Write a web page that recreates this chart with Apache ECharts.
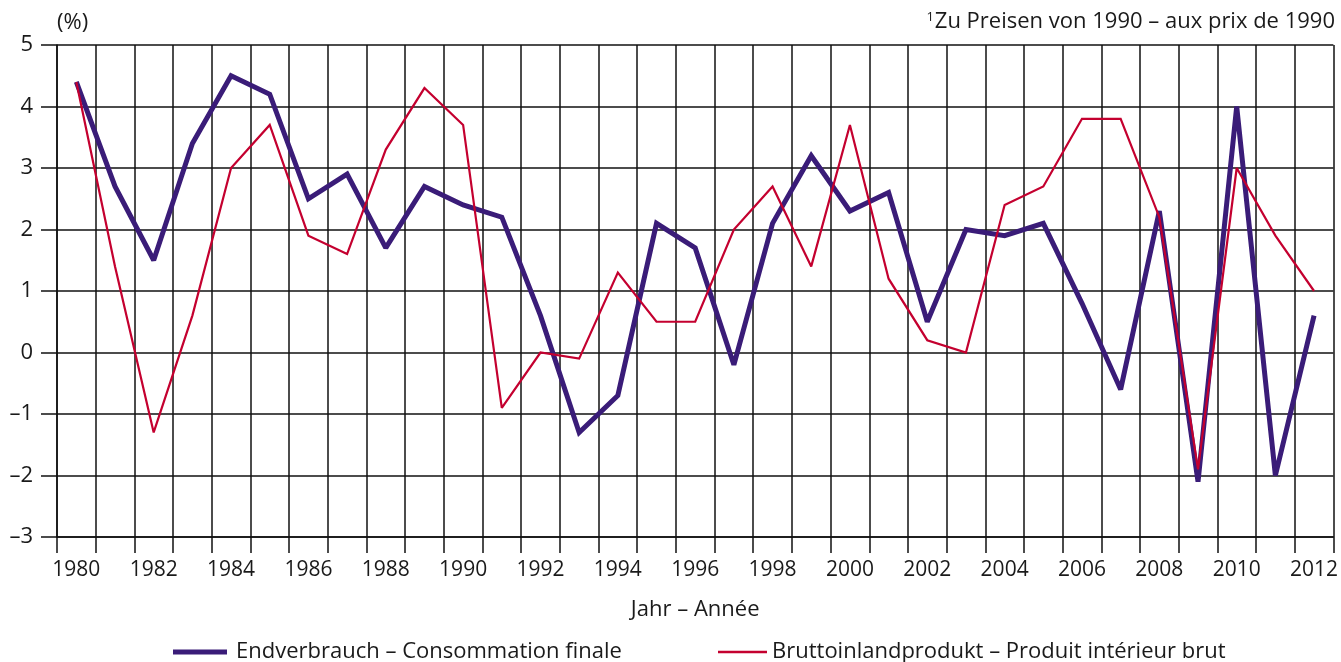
<!DOCTYPE html>
<html>
<head>
  <meta charset="utf-8" />
  <script src="https://cdn.jsdelivr.net/npm/echarts@6/dist/echarts.min.js"></script>
  <style>
    html, body { margin: 0; padding: 0; background: #fff; }
    #main { width: 1341px; height: 662px; }
  </style>
  <title>Endverbrauch und BIP</title>
</head>
<body>
  <div id="main"></div>
  <script>
    // Jahre 1980 - 2012
    var years = ['1980', '1981', '1982', '1983', '1984', '1985', '1986', '1987', '1988', '1989',
      '1990', '1991', '1992', '1993', '1994', '1995', '1996', '1997', '1998', '1999',
      '2000', '2001', '2002', '2003', '2004', '2005', '2006', '2007', '2008', '2009',
      '2010', '2011', '2012'];

    // Endverbrauch – Consommation finale (%)
    var endverbrauch = [4.4, 2.7, 1.5, 3.4, 4.5, 4.2, 2.5, 2.9, 1.7, 2.7,
      2.4, 2.2, 0.6, -1.3, -0.7, 2.1, 1.7, -0.2, 2.1, 3.2,
      2.3, 2.6, 0.5, 2.0, 1.9, 2.1, 0.8, -0.6, 2.3, -2.1,
      4.0, -2.0, 0.6];

    // Bruttoinlandprodukt – Produit intérieur brut (%)
    var bip = [4.4, 1.4, -1.3, 0.6, 3.0, 3.7, 1.9, 1.6, 3.3, 4.3,
      3.7, -0.9, 0.0, -0.1, 1.3, 0.5, 0.5, 2.0, 2.7, 1.4,
      3.7, 1.2, 0.2, 0.0, 2.4, 2.7, 3.8, 3.8, 2.2, -1.9,
      3.0, 1.9, 1.0];

    var seriesNames = ['Endverbrauch – Consommation finale', 'Bruttoinlandprodukt – Produit intérieur brut'];

    var FONT = '"Open Sans", sans-serif';
    var TXT = '#1a1a1a';
    var GRID = '#111';
    var PURPLE = '#3a1c78';
    var RED = '#c4002f';

    var myChart = echarts.init(document.getElementById('main'));

    var option = {
      backgroundColor: '#fff',
      animation: false,
      textStyle: { fontFamily: FONT, color: TXT },
      grid: { left: 57, right: 3, top: 45, bottom: 125, containLabel: false },
      legend: [{
        data: [seriesNames[0]],
        left: 168, top: 636,
        icon: 'rect',
        itemWidth: 54, itemHeight: 5,
        itemStyle: { color: PURPLE },
        textStyle: { fontFamily: FONT, fontSize: 22, color: TXT, padding: [0, 0, 0, 4] }
      }, {
        data: [seriesNames[1]],
        left: 713, top: 636,
        icon: 'rect',
        itemWidth: 49, itemHeight: 2.5,
        itemStyle: { color: RED },
        textStyle: { fontFamily: FONT, fontSize: 22, color: TXT }
      }],
      xAxis: {
        type: 'category',
        data: years,
        boundaryGap: true,
        name: 'Jahr – Année',
        nameLocation: 'middle',
        nameGap: 62,
        nameTextStyle: { fontFamily: FONT, fontSize: 22, color: TXT },
        axisLine: { show: true, onZero: false, lineStyle: { color: GRID, width: 1.5 } },
        axisTick: { show: true, interval: 0, length: 16, lineStyle: { color: GRID, width: 1.5 } },
        axisLabel: { interval: 1, fontFamily: FONT, fontSize: 21, color: TXT, margin: 23 },
        splitLine: { show: true, interval: 0, lineStyle: { color: GRID, width: 1.5 } }
      },
      yAxis: {
        type: 'value',
        min: -3, max: 5, interval: 1,
        axisLine: { show: true, lineStyle: { color: GRID, width: 1.5 } },
        axisTick: { show: true, length: 16, lineStyle: { color: GRID, width: 1.5 } },
        axisLabel: {
          fontFamily: FONT, fontSize: 22, color: TXT, margin: 24,
          formatter: function (v) { return v < 0 ? '–' + Math.abs(v) : String(v); }
        },
        splitLine: { show: true, lineStyle: { color: GRID, width: 1.5 } }
      },
      graphic: [{
        type: 'text', left: 57, top: 12,
        style: { text: '(%)', font: '22px ' + FONT, fill: TXT }
      }, {
        type: 'text', right: 6, top: 11,
        style: {
          text: '{s|1}Zu Preisen von 1990 – aux prix de 1990',
          font: '22px ' + FONT, fill: TXT,
          rich: { s: { fontSize: 13, fontFamily: FONT, verticalAlign: 'top', padding: [0, 1, 8, 0] } }
        }
      }],
      series: [{
        name: seriesNames[0],
        type: 'line',
        data: endverbrauch,
        symbol: 'none',
        color: PURPLE,
        lineStyle: { color: PURPLE, width: 5, join: 'miter', miterLimit: 2, cap: 'butt' },
        z: 3
      }, {
        name: seriesNames[1],
        type: 'line',
        data: bip,
        symbol: 'none',
        color: RED,
        lineStyle: { color: RED, width: 2.2, join: 'miter', miterLimit: 2, cap: 'butt' },
        z: 4
      }]
    };
    myChart.setOption(option);
  </script>
</body>
</html>
